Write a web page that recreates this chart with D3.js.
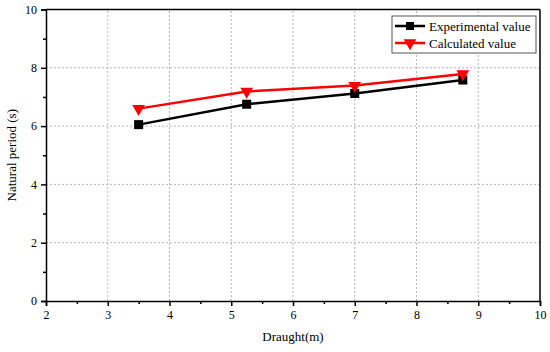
<!DOCTYPE html>
<html>
<head>
<meta charset="utf-8">
<script src="https://cdn.jsdelivr.net/npm/d3@7"></script>
<style>
  body { margin: 0; background: #fff; }
  svg text { font-family: "Liberation Serif", "Times New Roman", serif; }
</style>
</head>
<body>
<div id="chart"></div>
<script>
const draught = [3.5, 5.25, 7, 8.75];
const experimental = [6.05, 6.75, 7.12, 7.58];
const calculated = [6.6, 7.19, 7.39, 7.79];
const xTicks = [2, 3, 4, 5, 6, 7, 8, 9, 10];
const yTicks = [0, 2, 4, 6, 8, 10];

const width = 550, height = 352;
const margin = {left: 46, right: 10, top: 9.5, bottom: 51};
const serif = '"Liberation Serif", "Times New Roman", serif';

const svg = d3.select('#chart').append('svg')
    .attr('width', width)
    .attr('height', height);

const x = d3.scaleLinear().domain([2, 10]).range([margin.left, width - margin.right]);
const y = d3.scaleLinear().domain([0, 10]).range([height - margin.bottom, margin.top]);

// grid
svg.append('g').selectAll('line')
    .data(xTicks.slice(1, -1))
    .enter().append('line')
    .attr('x1', d => x(d)).attr('x2', d => x(d))
    .attr('y1', y(0)).attr('y2', y(10))
    .attr('stroke', '#b5b5b5').attr('stroke-dasharray', '2,2');

svg.append('g').selectAll('line')
    .data(yTicks.slice(1, -1))
    .enter().append('line')
    .attr('y1', d => y(d)).attr('y2', d => y(d))
    .attr('x1', x(2)).attr('x2', x(10))
    .attr('stroke', '#b5b5b5').attr('stroke-dasharray', '2,2');

// axes
svg.append('g')
    .attr('transform', `translate(0,${y(0)})`)
    .call(d3.axisBottom(x).tickValues(xTicks).tickSize(5).tickPadding(4).tickFormat(d3.format('d')))
    .attr('font-family', serif).attr('font-size', 12);
svg.append('g')
    .attr('transform', `translate(0,${y(0)})`)
    .call(d3.axisBottom(x).tickValues(d3.range(2.5, 10, 1)).tickSize(3).tickFormat(''))
    .call(g => g.select('.domain').remove());

svg.append('g')
    .attr('transform', `translate(${x(2)},0)`)
    .call(d3.axisLeft(y).tickValues(yTicks).tickSize(5).tickPadding(4).tickFormat(d3.format('d')))
    .attr('font-family', serif).attr('font-size', 12);
svg.append('g')
    .attr('transform', `translate(${x(2)},0)`)
    .call(d3.axisLeft(y).tickValues(d3.range(1, 10, 2)).tickSize(3).tickFormat(''))
    .call(g => g.select('.domain').remove());

svg.selectAll('.tick line').attr('stroke', '#000').attr('stroke-width', 1.5);
svg.selectAll('.domain').attr('stroke', '#000').attr('stroke-width', 1.5);
svg.selectAll('.tick text').attr('fill', '#000');

// frame top / right
svg.append('line').attr('x1', x(2)).attr('x2', x(10)).attr('y1', y(10)).attr('y2', y(10))
    .attr('stroke', '#000').attr('stroke-width', 1.5);
svg.append('line').attr('x1', x(10)).attr('x2', x(10)).attr('y1', y(10)).attr('y2', y(0))
    .attr('stroke', '#000').attr('stroke-width', 1.5);

// axis titles
svg.append('text')
    .attr('x', (x(2) + x(10)) / 2).attr('y', 341)
    .attr('text-anchor', 'middle').attr('font-size', 13)
    .text('Draught(m)');
svg.append('text')
    .attr('transform', `translate(16,${(y(0) + y(10)) / 2}) rotate(-90)`)
    .attr('text-anchor', 'middle').attr('font-size', 13)
    .text('Natural period (s)');

// lines
const line = d3.line().x((d, i) => x(draught[i])).y(d => y(d));
const tri = d3.symbol().type(d3.symbolTriangle).size(70);

svg.append('path').datum(experimental)
    .attr('d', line).attr('fill', 'none').attr('stroke', '#000').attr('stroke-width', 2.5);
svg.append('path').datum(calculated)
    .attr('d', line).attr('fill', 'none').attr('stroke', '#ff0000').attr('stroke-width', 2.5);

svg.append('g').selectAll('rect')
    .data(experimental)
    .enter().append('rect')
    .attr('x', (d, i) => x(draught[i]) - 4.5)
    .attr('y', d => y(d) - 4.5)
    .attr('width', 9).attr('height', 9)
    .attr('fill', '#000');

svg.append('g').selectAll('path')
    .data(calculated)
    .enter().append('path')
    .attr('d', tri)
    .attr('transform', (d, i) => `translate(${x(draught[i])},${y(d)}) rotate(180)`)
    .attr('fill', '#ff0000');

// legend
const legend = svg.append('g').attr('transform', 'translate(392,16)');
legend.append('rect')
    .attr('width', 144).attr('height', 37)
    .attr('fill', '#fff').attr('stroke', '#555').attr('stroke-width', 1);

const legendItems = [
    {name: 'Experimental value', color: '#000', shape: 'square'},
    {name: 'Calculated value', color: '#ff0000', shape: 'tri'}
];

const item = legend.selectAll('.legend-item')
    .data(legendItems)
    .enter().append('g')
    .attr('class', 'legend-item')
    .attr('transform', (d, i) => `translate(0,${10 + i * 17})`);

item.append('line')
    .attr('x1', 3).attr('x2', 33).attr('y1', 0).attr('y2', 0)
    .attr('stroke', d => d.color).attr('stroke-width', 2.5);

item.append('path')
    .attr('d', d => d.shape === 'square'
        ? d3.symbol().type(d3.symbolSquare).size(64)()
        : tri())
    .attr('transform', d => `translate(18,0)${d.shape === 'tri' ? ' rotate(180)' : ''}`)
    .attr('fill', d => d.color);

item.append('text')
    .attr('x', 37).attr('y', 4.5)
    .attr('font-size', 13)
    .text(d => d.name);
</script>
</body>
</html>
